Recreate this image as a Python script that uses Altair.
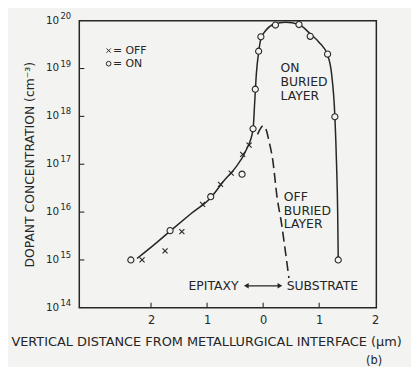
import altair as alt
import pandas as pd

FONT = "DejaVu Sans"
INK = "#262626"
BG = "#f3f3f1"

# ---- data (x: µm, negative = epitaxy side) ----
on_x = [-2.36, -1.66, -0.935, -0.376, -0.18, -0.14, -0.08, -0.04, 0.22, 0.64, 0.84, 1.15, 1.28, 1.34]
on_y = [1.0e15, 4.1e15, 2.1e16, 6.2e16, 5.5e17, 3.7e18, 2.3e19, 4.6e19, 8.1e19, 8.3e19, 4.7e19, 2.0e19, 9.8e17, 1.0e15]

off_x = [-2.16, -1.75, -1.45, -1.08, -0.76, -0.57, -0.365, -0.25]
off_y = [1.0e15, 1.55e15, 3.9e15, 1.45e16, 3.8e16, 6.5e16, 1.6e17, 2.5e17]

curve_x = [-2.25, -1.9, -1.66, -1.3, -0.935, -0.7, -0.5, -0.3, -0.18, -0.15, -0.12, -0.08, -0.04,
           0.05, 0.2, 0.4, 0.64, 0.84, 1.0, 1.15, 1.22, 1.28, 1.31, 1.33, 1.34]
curve_y = [1.07e15, 2.3e15, 4.0e15, 9.0e15, 2.0e16, 4.5e16, 8.3e16, 2.0e17, 5.3e17, 2.0e18, 8.0e18,
           2.2e19, 4.2e19, 6.3e19, 8.5e19, 9.3e19, 8.3e19, 5.3e19, 3.5e19, 1.9e19, 8.0e18, 1.0e18,
           1.0e17, 1.0e16, 1.0e15]

dash_x = [-0.1, 0.0, 0.06, 0.10, 0.17, 0.25, 0.33, 0.37, 0.46]
dash_y = [4.2e17, 6.3e17, 5.0e17, 3.2e17, 1.26e17, 2.0e16, 5.6e15, 2.6e15, 4.2e14]

x_ticks = [-2, -1, 0, 1, 2]
y_ticks = [1e14, 1e15, 1e16, 1e17, 1e18, 1e19, 1e20]
y_exponents = ["14", "15", "16", "17", "18", "19", "20"]
x_domain = [-3.28, 2.02]
y_domain = [1e14, 1e20]

x_title = "VERTICAL DISTANCE FROM METALLURGICAL INTERFACE (\u03bcm)"
y_title = "DOPANT CONCENTRATION (cm\u207b\u00b3)"

# annotations (data coordinates)
ann_left = pd.DataFrame({
    "x": [-2.68, -2.68, 0.31, 0.31, 0.31, 0.37, 0.37, 0.37, 0.42],
    "y": [2.37e19, 1.26e19, 1.02e19, 5.25e18, 2.69e18, 2.09e16, 1.07e16, 5.5e15, 2.88e14],
    "t": ["= OFF", "= ON", "ON", "BURIED", "LAYER", "OFF", "BURIED", "LAYER", "SUBSTRATE"],
    "s": [11, 11, 12.5, 12.5, 12.5, 12.5, 12.5, 12.5, 12.5],
})
ann_right = pd.DataFrame({"x": [-0.44], "y": [2.88e14], "t": ["EPITAXY"]})
ann_b = pd.DataFrame({"x": [1.98], "y": [7.9e12], "t": ["(b)"]})

legend_on = pd.DataFrame({"x": [-2.756], "y": [1.26e19]})
legend_off = pd.DataFrame({"x": [-2.756], "y": [2.37e19]})

arrow_x = [-0.30, 0.30]
arrow_y = [2.88e14, 2.88e14]

# ---- scales ----
xs = alt.Scale(domain=x_domain, nice=False, zero=False)
ys = alt.Scale(type="log", domain=y_domain, nice=False)

x_axis = alt.Axis(values=x_ticks, labelExpr="'' + abs(datum.value)", ticks=False, domain=False,
                  grid=False, labelFont=FONT, labelFontSize=11.5, labelColor=INK, labelPadding=7,
                  labelOverlap=False, labelBound=False, labelFlush=False,
                  title=x_title, titleFont=FONT, titleFontSize=13, titleFontWeight="normal",
                  titleColor=INK, titleX=128, titleY=34, titleAlign="center", titleBaseline="middle")
y_axis = alt.Axis(values=y_ticks, labels=False, ticks=False, domain=False, grid=False,
                  title=y_title, titleFont=FONT, titleFontSize=12.5, titleFontWeight="normal",
                  titleColor=INK, titleX=-50, titleY=145, titleAngle=270,
                  titleAlign="center", titleBaseline="middle")

base_x = alt.X("x:Q", scale=xs, axis=x_axis)
base_y = alt.Y("y:Q", scale=ys, axis=y_axis)

curve = alt.Chart(pd.DataFrame({"x": curve_x, "y": curve_y})).mark_line(
    color=INK, strokeWidth=1.5, interpolate="monotone").encode(x=base_x, y=base_y)
dashed = alt.Chart(pd.DataFrame({"x": dash_x, "y": dash_y})).mark_line(
    color=INK, strokeWidth=1.6, strokeDash=[10, 5], interpolate="monotone").encode(x="x:Q", y="y:Q")

on_pts = alt.Chart(pd.DataFrame({"x": on_x, "y": on_y})).mark_point(
    shape="circle", size=38, filled=False, stroke=INK, strokeWidth=1.1, fill=BG, fillOpacity=1,
    opacity=1).encode(x="x:Q", y="y:Q")
CROSS = "M-1,-1L1,1M-1,1L1,-1"
off_pts = alt.Chart(pd.DataFrame({"x": off_x, "y": off_y})).mark_point(
    shape=CROSS, size=26, filled=False, stroke=INK, strokeWidth=1.1, opacity=1).encode(x="x:Q", y="y:Q")

leg_on = alt.Chart(legend_on).mark_point(shape="circle", size=22, filled=False, stroke=INK,
                                          strokeWidth=1, opacity=1).encode(x="x:Q", y="y:Q")
leg_off = alt.Chart(legend_off).mark_point(shape=CROSS, size=18, filled=False, stroke=INK,
                                            strokeWidth=1, opacity=1).encode(x="x:Q", y="y:Q")

# inward ticks
xt = alt.Chart(pd.DataFrame({"x": [-2, -1, 0, 1], "y": [1e14] * 4, "y2": [1.27e14] * 4})).mark_rule(
    color=INK, strokeWidth=1.1).encode(x="x:Q", y="y:Q", y2="y2:Q")
yt = alt.Chart(pd.DataFrame({"y": [1e15, 1e16, 1e17, 1e18, 1e19], "x": [-3.28] * 5,
                             "x2": [-3.19] * 5})).mark_rule(
    color=INK, strokeWidth=1.1).encode(y="y:Q", x="x:Q", x2="x2:Q")

# y tick labels: "10" with raised exponent
ylab = pd.DataFrame({"y": y_ticks, "base": ["10"] * len(y_ticks), "exp": y_exponents})
ylab_base = alt.Chart(ylab).mark_text(align="right", baseline="middle", font=FONT, color=INK,
                                      fontSize=10.5).encode(
    x=alt.datum(-3.64), y="y:Q", text="base:N")
ylab_exp = alt.Chart(ylab).mark_text(align="left", baseline="middle", font=FONT, color=INK,
                                     fontSize=8.5, dy=-5).encode(
    x=alt.datum(-3.615), y="y:Q", text="exp:N")

# arrow
arr = pd.DataFrame({"x": [arrow_x[0]], "x2": [arrow_x[1]], "y": [arrow_y[0]]})
arrow_line = alt.Chart(arr).mark_rule(color=INK, strokeWidth=1.2).encode(x="x:Q", x2="x2:Q", y="y:Q")
heads = alt.Chart(pd.DataFrame({"x": arrow_x, "y": arrow_y, "sh": ["triangle-left", "triangle-right"]})
                  ).mark_point(filled=True, size=30, color=INK, opacity=1).encode(
    x="x:Q", y="y:Q", shape=alt.Shape("sh:N", scale=None, legend=None))

txt_l = alt.Chart(ann_left).mark_text(align="left", baseline="middle", font=FONT, color=INK).encode(
    x="x:Q", y="y:Q", text="t:N", size=alt.Size("s:Q", scale=None, legend=None))
txt_r = alt.Chart(ann_right).mark_text(align="right", baseline="middle", font=FONT, color=INK,
                                       fontSize=12.5).encode(x="x:Q", y="y:Q", text="t:N")
txt_b = alt.Chart(ann_b).mark_text(align="center", baseline="middle", font=FONT, color=INK,
                                   fontSize=11.5).encode(x="x:Q", y="y:Q", text="t:N")

chart = alt.layer(curve, dashed, xt, yt, ylab_base, ylab_exp, on_pts, off_pts, leg_on, leg_off,
                  arrow_line, heads, txt_l, txt_r, txt_b).properties(
    width=300, height=290,
    autosize=alt.AutoSizeParams(type="none"),
    padding={"left": 72, "top": 11, "right": 35, "bottom": 58},
    background=BG,
).configure_view(stroke=INK, strokeWidth=1.5)

chart.save("out.html", embed_options={"renderer": "svg", "actions": False})
